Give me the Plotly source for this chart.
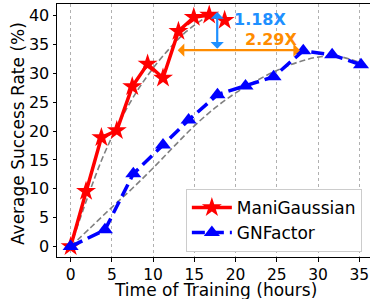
import plotly.graph_objects as go

# ---- data ----
mani_hours = [0, 1.87, 3.73, 5.6, 7.47, 9.33, 11.2, 13.07, 14.93, 16.8, 18.67]
mani_rate = [0, 9.6, 18.9, 20.1, 27.7, 31.6, 29.2, 37.3, 39.7, 40.1, 39.2]

gn_hours = [0, 4.16, 7.6, 11.2, 14.3, 17.8, 21.2, 24.6, 28.2, 31.7, 35.2]
gn_rate = [0, 2.9, 12.6, 17.6, 21.9, 26.3, 27.8, 29.4, 33.9, 33.2, 31.5]

mani_trend_x = [0, 2.0, 4.0, 6.0, 8.0, 10.0, 12.0, 14.0, 16.9]
mani_trend_y = [0, 8.3, 15.8, 21.8, 26.8, 30.9, 34.3, 37.2, 40.2]

gn_trend_x = [0, 2.5, 5, 7.5, 10, 12.5, 15, 17.5, 20, 22.5, 25, 27.5, 30, 32.5, 35.2]
gn_trend_y = [0, 3.4, 6.8, 10.1, 13.6, 17.3, 20.9, 24.0, 26.6, 28.7, 30.5, 31.9, 32.8, 32.9, 31.8]

x_ticks = [0, 5, 10, 15, 20, 25, 30, 35]
y_ticks = [0, 5, 10, 15, 20, 25, 30, 35, 40]

x_title = "Time of Training (hours)"
y_title = "Average Success Rate (%)"

# annotation anchors (data values)
speed_y = 34.0
speed_x0, speed_x1 = 12.8, 27.8
gain_x = 17.77
gain_y0, gain_y1 = 34.0, 40.6

FONT = "DejaVu Sans"

fig = go.Figure()

fig.add_trace(go.Scatter(x=mani_trend_x, y=mani_trend_y, mode="lines",
                         line=dict(color="gray", width=1.6, dash="6px,3px", shape="spline"),
                         showlegend=False, hoverinfo="skip"))
fig.add_trace(go.Scatter(x=gn_trend_x, y=gn_trend_y, mode="lines",
                         line=dict(color="gray", width=1.6, dash="6px,3px", shape="spline"),
                         showlegend=False, hoverinfo="skip"))

fig.add_trace(go.Scatter(x=mani_hours, y=mani_rate, mode="lines+markers", name="ManiGaussian",
                         line=dict(color="red", width=3.5),
                         marker=dict(symbol="star", size=15, color="red", line=dict(width=0))))
fig.add_trace(go.Scatter(x=gn_hours, y=gn_rate, mode="lines+markers", name="GNFactor",
                         line=dict(color="blue", width=3.5, dash="13px,6px"),
                         marker=dict(symbol="triangle-up", size=14, color="blue", line=dict(width=0))))

# arrows
fig.add_annotation(x=speed_x1, y=speed_y, ax=speed_x0, ay=speed_y, xref="x", yref="y",
                   axref="x", ayref="y", text="", showarrow=True, arrowhead=1, startarrowhead=1,
                   arrowside="end+start", arrowwidth=2.2, arrowsize=1, startarrowsize=1,
                   arrowcolor="darkorange")
fig.add_annotation(x=gain_x, y=gain_y1, ax=gain_x, ay=gain_y0, xref="x", yref="y",
                   axref="x", ayref="y", text="", showarrow=True, arrowhead=1, startarrowhead=1,
                   arrowside="end+start", arrowwidth=2.2, arrowsize=1, startarrowsize=1,
                   arrowcolor="dodgerblue")
fig.add_annotation(x=19.6, y=39.25, xref="x", yref="y", text="<b>1.18X</b>", showarrow=False,
                   xanchor="left", yanchor="middle",
                   font=dict(family=FONT, size=16, color="dodgerblue"))
fig.add_annotation(x=20.9, y=35.8, xref="x", yref="y", text="<b>2.29X</b>", showarrow=False,
                   xanchor="left", yanchor="middle",
                   font=dict(family=FONT, size=16, color="darkorange"))

# axis titles
fig.add_annotation(x=0.506, y=0, xref="paper", yref="paper", yshift=-33, text=x_title,
                   showarrow=False, xanchor="center", yanchor="middle",
                   font=dict(family=FONT, size=17, color="black"))
fig.add_annotation(x=0, y=0.486, xref="paper", yref="paper", xshift=-39, text=y_title,
                   textangle=-90, showarrow=False, xanchor="center", yanchor="middle",
                   font=dict(family=FONT, size=17, color="black"))

fig.update_layout(
    width=370, height=299,
    margin=dict(l=57, r=0, t=4, b=42, autoexpand=False),
    paper_bgcolor="white", plot_bgcolor="white",
    font=dict(family=FONT, size=16, color="black"),
    legend=dict(x=0.974, y=0.02, xanchor="right", yanchor="bottom",
                bgcolor="white", bordercolor="#cccccc", borderwidth=1,
                font=dict(family=FONT, size=17), itemwidth=40, tracegroupgap=0),
)
fig.update_xaxes(range=[-1.65, 36.29], tickvals=x_ticks, ticktext=[str(t) for t in x_ticks],
                 automargin=False,
                 showgrid=True, gridcolor="#b0b0b0", griddash="dot", gridwidth=1,
                 showline=True, linecolor="black", linewidth=1, mirror=True,
                 ticks="outside", ticklen=3.5, tickcolor="black", zeroline=False,
                 tickfont=dict(size=15.5))
fig.update_yaxes(range=[-1.8, 42.0], tickvals=y_ticks, ticktext=[str(t) for t in y_ticks],
                 automargin=False,
                 showgrid=False, showline=True, linecolor="black", linewidth=1, mirror=False,
                 ticks="outside", ticklen=3.5, tickcolor="black", zeroline=False,
                 tickfont=dict(size=16))

fig.write_html("out.html", config={"displayModeBar": False},
               post_script="document.body.style.margin='0';")
